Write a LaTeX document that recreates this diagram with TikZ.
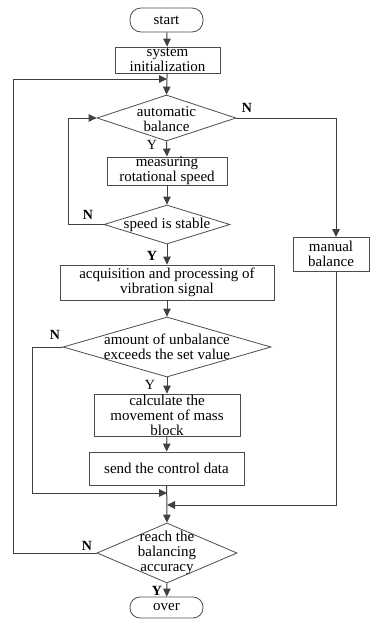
\documentclass[tikz,border=0pt]{standalone}
\usepackage{fontspec}
\setmainfont{Liberation Serif}
\usetikzlibrary{shapes.geometric,arrows.meta}
\begin{document}
\begin{tikzpicture}[x=1pt,y=-1pt,
  every node/.style={font=\fontsize{15}{15}\selectfont},
  line/.style={draw=black!75,line width=1pt},
  arr/.style={line,-{Triangle[length=8pt,width=7.5pt]}},
  box/.style={draw=black!70,line width=0.8pt,rectangle,inner sep=0pt,align=center},
  term/.style={box,rounded corners=11pt},
  dia/.style={draw=black!70,line width=0.8pt,diamond,inner sep=0pt},
  lab/.style={inner sep=0pt,font=\fontsize{14}{14}\selectfont\bfseries},
  labn/.style={inner sep=0pt,font=\fontsize{14}{14}\selectfont}
]
\useasboundingbox (0,0) rectangle (370,619);
\node[term,minimum width=73pt,minimum height=24pt] (start) at (166.5,20) {start};
\node[box,minimum width=105pt,minimum height=26pt] (init) at (167.5,60) {system\\initialization};
\node[dia,minimum width=139pt,minimum height=46pt,label={[align=center,inner sep=0pt,yshift=-1pt]center:automatic\\balance}] (auto) at (166.5,118) {};
\node[box,minimum width=120pt,minimum height=28pt] (meas) at (167,171) {measuring\\rotational speed};
\node[dia,minimum width=126pt,minimum height=39pt,label={[inner sep=0pt]center:speed is stable}] (speed) at (167,224.5) {};
\node[box,minimum width=214pt,minimum height=35pt] (acq) at (167,282.5) {acquisition and processing of\\vibration signal};
\node[box,minimum width=76pt,minimum height=34pt] (man) at (331,254) {manual\\balance};
\node[dia,minimum width=208pt,minimum height=60pt,label={[align=center,inner sep=0pt]center:amount of unbalance\\exceeds the set value}] (unb) at (167,347) {};
\node[box,minimum width=146pt,minimum height=42pt] (calc) at (167,415) {calculate the\\movement of mass\\block};
\node[box,minimum width=155pt,minimum height=33pt] (send) at (166.5,468.5) {send the control data};
\node[dia,minimum width=140pt,minimum height=60pt,label={[align=center,inner sep=0pt]center:reach the\\balancing\\accuracy}] (reach) at (167,553) {};
\node[term,minimum width=73pt,minimum height=21pt,rounded corners=10pt] (over) at (166.5,607.5) {over};

\coordinate (j1) at (167,79);
\coordinate (j2) at (167,493);
\coordinate (j3) at (167,505);
\coordinate (mantop) at (336,237);
\coordinate (manbot) at (336,271);

\draw[arr] (start) -- (init);
\draw[arr] (init) -- (auto.north);
\draw[arr] (reach.west) -- (13,553) -- (13,79) -- (j1);
\draw[arr] (auto.south) -- (meas.north);
\draw[arr] (meas) -- (speed.north);
\draw[arr] (speed.west) -- (68,224.5) -- (68,118) -- (auto.west);
\draw[arr] (speed.south) -- (acq.north);
\draw[arr] (auto.east) -- (336,118) -- (mantop);
\draw[arr] (acq) -- (unb.north);
\draw[arr] (unb.south) -- (calc.north);
\draw[arr] (calc) -- (send);
\draw[arr] (send) -- (reach.north);
\draw[arr] (unb.west) -- (32,347) -- (32,493) -- (j2);
\draw[arr] (manbot) -- (336,505) -- (j3);
\draw[arr] (reach.south) -- (over);

\node[lab] (n1) at (247,108) {N};
\node[labn] (y1) at (152,145) {Y};
\node[lab] (n2) at (88,215) {N};
\node[lab] (y2) at (152,256) {Y};
\node[lab] (n3) at (55,335) {N};
\node[labn] (y3) at (150,385) {Y};
\node[lab] (n4) at (87,546) {N};
\node[lab] (y4) at (157,591) {Y};
\end{tikzpicture}
\end{document}
